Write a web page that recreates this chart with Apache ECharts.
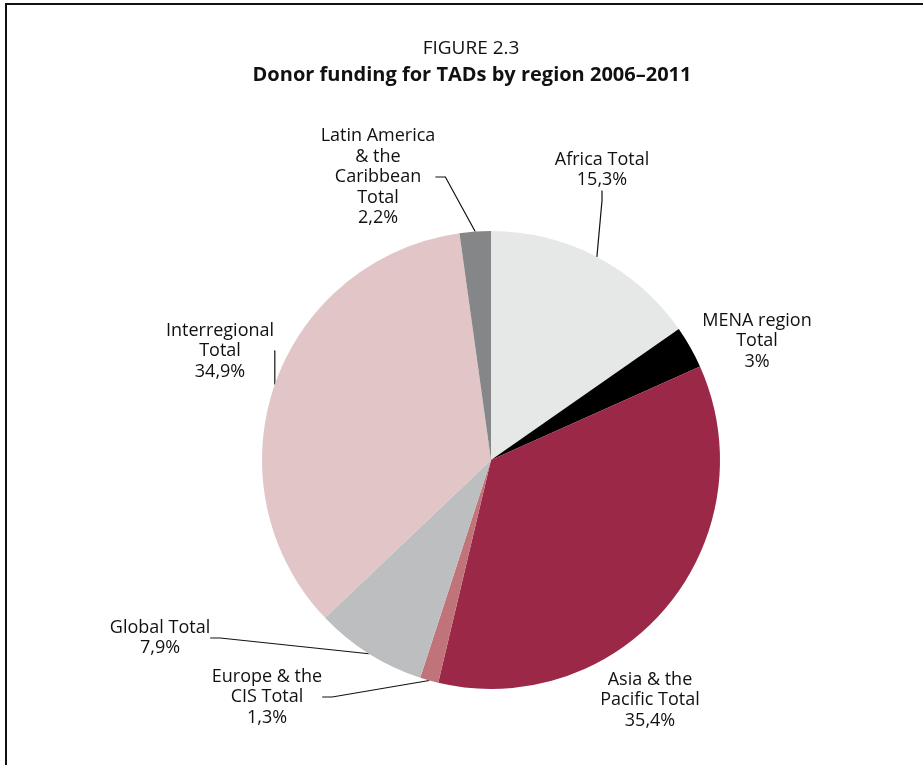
<!DOCTYPE html>
<html>
<head>
<meta charset="utf-8">
<title>Donor funding for TADs by region 2006–2011</title>
<script src="https://cdn.jsdelivr.net/npm/echarts@6/dist/echarts.min.js"></script>
<style>
html, body { margin: 0; padding: 0; background: #fff; }
#chart { width: 923px; height: 765px; }
</style>
</head>
<body>
<div id="chart"></div>
<script>
// data, clockwise from 12 o'clock
const regions = ['Africa Total', 'MENA region Total', 'Asia & the Pacific Total', 'Europe & the CIS Total',
                 'Global Total', 'Interregional Total', 'Latin America & the Caribbean Total'];
const shares = [15.3, 3, 35.4, 1.3, 7.9, 34.9, 2.2];
const labelText = ['Africa Total\n15,3%', 'MENA region\nTotal\n3%', 'Asia & the\nPacific Total\n35,4%',
                   'Europe & the\nCIS Total\n1,3%', 'Global Total\n7,9%', 'Interregional\nTotal\n34,9%',
                   'Latin America\n& the\nCaribbean\nTotal\n2,2%'];
const colors = ['#e6e7e7', '#000000', '#9b2847', '#c1737a', '#bdbec0', '#e2c6c7', '#858688'];

// where each label block sits (centre), and whether it gets a leader line
const labelPos = [[602, 170], [757, 341], [650, 700], [267, 697], [160, 638], [220, 351], [378, 177]];
const hasLine = [true, false, false, true, true, true, true];

const chart = echarts.init(document.getElementById('chart'));

const font = '"Open Sans", "Noto Sans", sans-serif';

chart.setOption({
    backgroundColor: '#fff',
    animation: false,
    title: [{
        text: 'FIGURE 2.3',
        left: 466, top: 34, textAlign: 'center',
        textStyle: { fontFamily: font, fontSize: 19, fontWeight: 'normal', color: '#111' }
    }, {
        text: 'Donor funding for TADs by region 2006–2011',
        left: 467, top: 60, textAlign: 'center',
        textStyle: { fontFamily: font, fontSize: 20, fontWeight: 'bold', color: '#111' }
    }],
    graphic: [{
        type: 'polyline',
        shape: { points: [[6, 765], [6, 4], [923, 4]] },
        style: { stroke: '#111', lineWidth: 2, fill: null }
    }],
    series: [{
        type: 'pie',
        center: [491, 460],
        radius: 229,
        startAngle: 90,
        clockwise: true,
        silent: true,
        data: regions.map((name, i) => ({
            name: name,
            value: shares[i],
            itemStyle: { color: colors[i] },
            labelLine: { show: hasLine[i] }
        })),
        label: {
            show: true,
            position: 'outside',
            formatter: p => labelText[p.dataIndex],
            fontFamily: font,
            fontSize: 18,
            lineHeight: 20.5,
            color: '#111',
            align: 'center'
        },
        labelLine: {
            show: true,
            length: 10,
            length2: 10,
            lineStyle: { color: '#111', width: 1.2 }
        },
        labelLayout: p => ({
            x: labelPos[p.dataIndex][0],
            y: labelPos[p.dataIndex][1],
            align: 'center',
            verticalAlign: 'middle'
        })
    }]
});
</script>
</body>
</html>
